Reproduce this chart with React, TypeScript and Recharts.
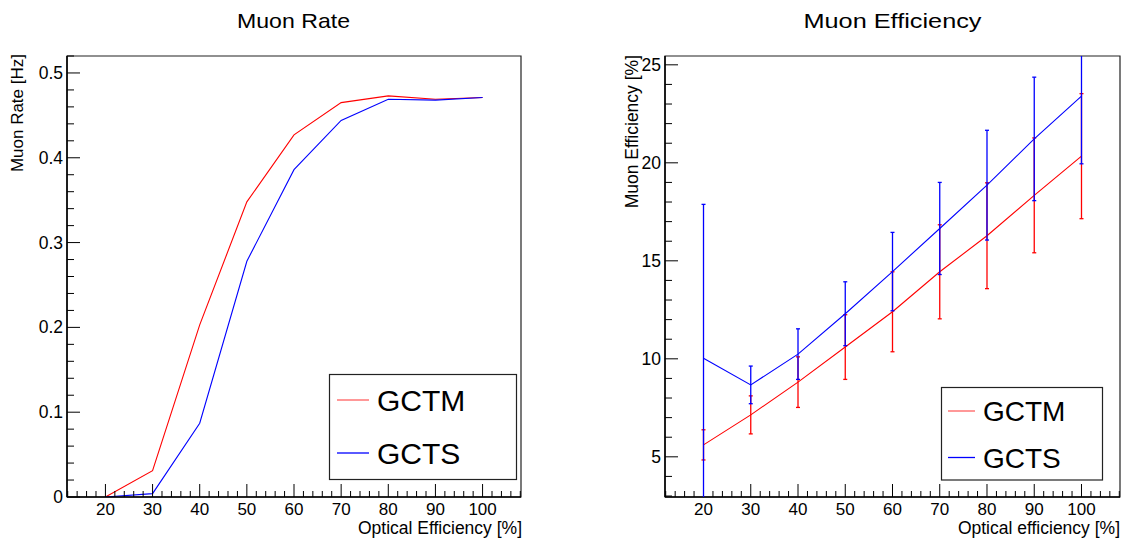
import React from "react";
import { LineChart, Line, XAxis, YAxis, ErrorBar, ReferenceArea } from "recharts";

const FONT = "'Liberation Sans', Arial, Helvetica, sans-serif";

// optical efficiency [%]
const opticalEff = [20, 30, 40, 50, 60, 70, 80, 90, 100];

// muon rate [Hz]
const rateGCTM = [0, 0.031, 0.203, 0.348, 0.427, 0.465, 0.473, 0.469, 0.471];
const rateGCTS = [0, 0.004, 0.087, 0.278, 0.386, 0.444, 0.469, 0.468, 0.471];

// muon efficiency [%] with errors
const effGCTM = [5.61, 7.14, 8.81, 10.6, 12.4, 14.44, 16.28, 18.34, 20.34];
const effGCTMErr = [0.77, 0.97, 1.29, 1.65, 2.04, 2.4, 2.7, 2.93, 3.19];
const effGCTS = [10.03, 8.67, 10.24, 12.3, 14.45, 16.65, 18.86, 21.22, 23.4];
const effGCTSErr = [7.85, 0.96, 1.29, 1.63, 2.0, 2.35, 2.8, 3.15, 3.45];

const seriesNames = ["GCTM", "GCTS"];
const seriesColors = ["#ff0000", "#0000ff"];

const xMajorTicks = [20, 30, 40, 50, 60, 70, 80, 90, 100];
const rateMajorTicks = [0, 0.1, 0.2, 0.3, 0.4, 0.5];
const effMajorTicks = [5, 10, 15, 20, 25];

const xDomain = [11.85, 108.15];
const rateDomain = [0, 0.52];
const effDomain = [2.95, 25.45];

// minor tick positions (axis decoration only)
function subTicks(domain: number[], step: number) {
  const out: number[] = [];
  const start = Math.ceil(domain[0] / step - 1e-9);
  for (let i = start; i * step <= domain[1] + 1e-9; i++) out.push(Number((i * step).toFixed(4)));
  return out;
}

const isMajor = (majors: number[], v: number) => majors.some((m) => Math.abs(m - v) < 1e-6);

const rateData = opticalEff.map((x, i) => ({ x, gctm: rateGCTM[i], gcts: rateGCTS[i] }));
const effData = opticalEff.map((x, i) => ({
  x,
  gctm: effGCTM[i],
  gctmErr: effGCTMErr[i],
  gcts: effGCTS[i],
  gctsErr: effGCTSErr[i],
}));

const makeXTick = (majors: number[]) => (props: any) => {
  const { x, y, payload } = props;
  const v = payload.value;
  const major = isMajor(majors, v);
  return (
    <g>
      <line x1={x} x2={x} y1={y} y2={y - (major ? 13 : 6)} stroke="#000" strokeWidth={1} />
      {major && (
        <text x={x} y={y + 18} textAnchor="middle" fontSize={17} fontFamily={FONT} fill="#000">
          {v}
        </text>
      )}
    </g>
  );
};

const makeYTick = (majors: number[]) => (props: any) => {
  const { x, y, payload } = props;
  const v = payload.value;
  const major = isMajor(majors, v);
  return (
    <g>
      <line x1={x} x2={x + (major ? 13 : 7)} y1={y} y2={y} stroke="#000" strokeWidth={1} />
      {major && (
        <text x={x - 4} y={y + 6} textAnchor="end" fontSize={17.5} fontFamily={FONT} fill="#000">
          {String(v)}
        </text>
      )}
    </g>
  );
};

function RateChart() {
  return (
    <LineChart width={565} height={540} data={rateData} margin={{ top: 56, right: 44, bottom: 0, left: 0 }}>
      <ReferenceArea
        x1={xDomain[0]}
        x2={xDomain[1]}
        y1={rateDomain[0]}
        y2={rateDomain[1]}
        fill="none"
        stroke="#222"
        strokeWidth={1.2}
        ifOverflow="visible"
      />
      <XAxis
        dataKey="x"
        type="number"
        domain={xDomain}
        allowDataOverflow
        ticks={subTicks(xDomain, 2)}
        interval={0}
        height={43}
        tickSize={0}
        tickMargin={0}
        tickLine={false}
        axisLine={{ stroke: "#000", strokeWidth: 1.5 }}
        tick={makeXTick(xMajorTicks)}
      />
      <YAxis
        type="number"
        domain={rateDomain}
        allowDataOverflow
        ticks={subTicks(rateDomain, 0.02)}
        interval={0}
        width={67}
        tickSize={0}
        tickMargin={0}
        tickLine={false}
        axisLine={{ stroke: "#000", strokeWidth: 1.5 }}
        tick={makeYTick(rateMajorTicks)}
      />
      <Line dataKey="gctm" stroke={seriesColors[0]} strokeWidth={1.1} dot={false} isAnimationActive={false} type="linear" />
      <Line dataKey="gcts" stroke={seriesColors[1]} strokeWidth={1.1} dot={false} isAnimationActive={false} type="linear" />
    </LineChart>
  );
}

// layer "axes": frame and axes; layer "series": lines + error bars (shown inside a clipped box)
function EffChart({ layer }: { layer: "axes" | "series" }) {
  const showAxes = layer === "axes";
  return (
    <LineChart width={565} height={540} data={effData} margin={{ top: 56, right: 10, bottom: 0, left: 0 }}>
      {showAxes && (
        <ReferenceArea
          x1={xDomain[0]}
          x2={xDomain[1]}
          y1={effDomain[0]}
          y2={effDomain[1]}
          fill="none"
          stroke="#222"
          strokeWidth={1.2}
          ifOverflow="visible"
        />
      )}
      <XAxis
        dataKey="x"
        type="number"
        domain={xDomain}
        allowDataOverflow
        ticks={subTicks(xDomain, 2)}
        interval={0}
        height={43}
        tickSize={0}
        tickMargin={0}
        tickLine={false}
        axisLine={showAxes ? { stroke: "#000", strokeWidth: 1.5 } : false}
        tick={showAxes ? makeXTick(xMajorTicks) : false}
      />
      <YAxis
        type="number"
        domain={effDomain}
        allowDataOverflow
        ticks={subTicks(effDomain, 1)}
        interval={0}
        width={100}
        tickSize={0}
        tickMargin={0}
        tickLine={false}
        axisLine={showAxes ? { stroke: "#000", strokeWidth: 1.5 } : false}
        tick={showAxes ? makeYTick(effMajorTicks) : false}
      />
      {!showAxes && (
        <Line dataKey="gctm" stroke={seriesColors[0]} strokeWidth={1.1} dot={false} isAnimationActive={false} type="linear">
          <ErrorBar dataKey="gctmErr" direction="y" width={2} stroke={seriesColors[0]} strokeWidth={1.3} />
        </Line>
      )}
      {!showAxes && (
        <Line dataKey="gcts" stroke={seriesColors[1]} strokeWidth={1.1} dot={false} isAnimationActive={false} type="linear">
          <ErrorBar dataKey="gctsErr" direction="y" width={2} stroke={seriesColors[1]} strokeWidth={1.3} />
        </Line>
      )}
    </LineChart>
  );
}

function LegendBox(props: { x: number; y: number; w: number; h: number; rows: number[]; lineX: number[]; textX: number; fontSize: number }) {
  const { x, y, w, h, rows, lineX, textX, fontSize } = props;
  return (
    <g>
      <rect x={x} y={y} width={w} height={h} fill="#fff" stroke="#222" strokeWidth={1.2} />
      {seriesNames.map((name, i) => (
        <g key={name}>
          <line x1={lineX[0]} x2={lineX[1]} y1={rows[i]} y2={rows[i]} stroke={i === 0 ? "#ff6060" : seriesColors[1]} strokeWidth={1.3} />
          <text x={textX} y={rows[i] + fontSize * 0.36} fontSize={fontSize} fontFamily={FONT} fill="#000">
            {name}
          </text>
        </g>
      ))}
    </g>
  );
}

export default function App() {
  return (
    <div style={{ position: "absolute", left: 0, top: 0, width: 1130, height: 540, background: "#fff" }}>
      <div style={{ position: "absolute", left: 0, top: 0 }}>
        <RateChart />
      </div>
      <div style={{ position: "absolute", left: 565, top: 0 }}>
        <EffChart layer="axes" />
      </div>
      <div style={{ position: "absolute", left: 665, top: 56, width: 455, height: 441, overflow: "hidden" }}>
        <div style={{ position: "absolute", left: -100, top: -56 }}>
          <EffChart layer="series" />
        </div>
      </div>
      <svg width={1130} height={540} style={{ position: "absolute", left: 0, top: 0, pointerEvents: "none" }}>
        <text x={293.5} y={28} textAnchor="middle" fontSize={21} fontFamily={FONT} textLength={113} lengthAdjust="spacingAndGlyphs">
          Muon Rate
        </text>
        <text x={892.5} y={28} textAnchor="middle" fontSize={21} fontFamily={FONT} textLength={178} lengthAdjust="spacingAndGlyphs">
          Muon Efficiency
        </text>
        <text transform="translate(23,54) rotate(-90)" textAnchor="end" fontSize={17} fontFamily={FONT}>
          Muon Rate [Hz]
        </text>
        <text transform="translate(638,55) rotate(-90)" textAnchor="end" fontSize={17.5} fontFamily={FONT}>
          Muon Efficiency [%]
        </text>
        <text x={522} y={534} textAnchor="end" fontSize={17.5} fontFamily={FONT}>
          Optical Efficiency [%]
        </text>
        <text x={1120} y={534} textAnchor="end" fontSize={17.5} fontFamily={FONT}>
          Optical efficiency [%]
        </text>
        <LegendBox x={329.5} y={374.5} w={187} h={105} rows={[400, 453]} lineX={[337, 369]} textX={377} fontSize={30} />
        <LegendBox x={941.5} y={387.5} w={161} h={92.5} rows={[411, 457.5]} lineX={[948, 975]} textX={983} fontSize={28} />
      </svg>
    </div>
  );
}
